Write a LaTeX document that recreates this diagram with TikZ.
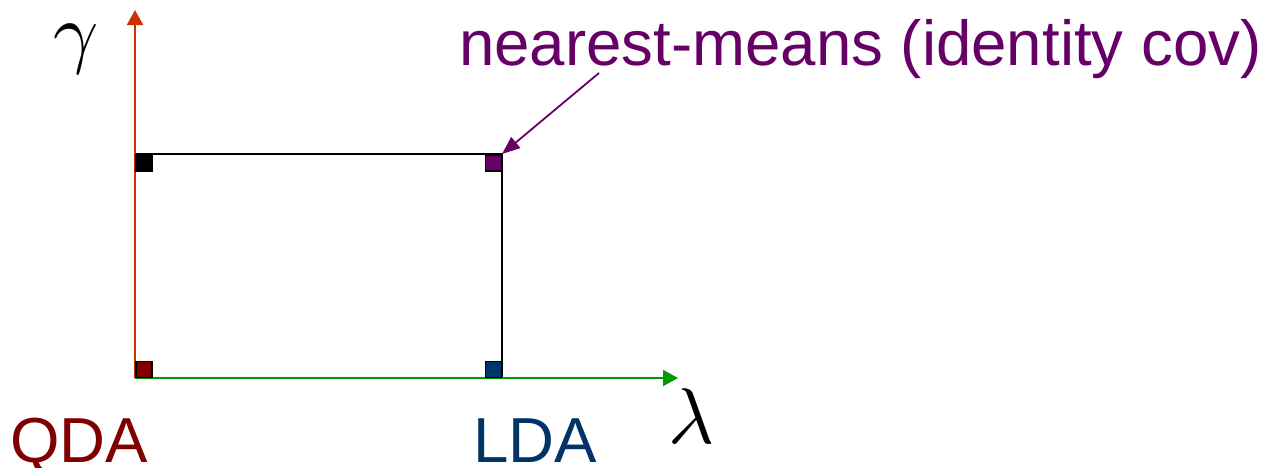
\documentclass[tikz,border=0pt]{standalone}
\usepackage{fontspec}
\setmainfont{Liberation Sans}
\usetikzlibrary{arrows.meta}
\definecolor{axisred}{RGB}{204,51,0}
\definecolor{axisgreen}{RGB}{0,153,0}
\definecolor{qdacol}{RGB}{128,0,0}
\definecolor{ldacol}{RGB}{0,51,102}
\definecolor{nmcol}{RGB}{102,0,102}
\tikzset{
  marker/.style={draw=black, line width=1.5pt, minimum size=16pt, inner sep=0pt, fill=#1},
  axisline/.style={line width=2pt, -{Triangle[length=15pt,width=16pt]}},
  label/.style={inner sep=0pt, anchor=base west, font=\fontsize{63.6}{70}\selectfont},
  greek/.style={inner sep=0pt, anchor=base west, scale=7.9},
}
\begin{document}
\begin{tikzpicture}[x=1pt, y=-1pt]
  \useasboundingbox (0,0) rectangle (1266,467);
  % corners of the parameter rectangle
  \coordinate (O) at (135,378);
  \coordinate (TL) at (135,154);
  \coordinate (TR) at (502,154);
  \coordinate (BR) at (502,378);
  \coordinate (ytip) at (135,10);
  \coordinate (xtip) at (678,378);
  % rectangle
  \draw[line width=2pt] (TL) -- (TR) -- (BR);
  % axes
  \draw[axisline, draw=axisred, fill=axisred] (O) -- (ytip);
  \draw[axisline, draw=axisgreen, fill=axisgreen] (O) -- (xtip);
  % corner markers
  \node[marker=qdacol, anchor=south west] (qdasq) at (O) {};
  \node[marker=black, anchor=north west] (tlsq) at (TL) {};
  \node[marker=nmcol, anchor=north east] (nmsq) at (TR) {};
  \node[marker=ldacol, anchor=south east] (ldasq) at (BR) {};
  % axis symbols
  \node[greek] (gam) at (52,58) {$\gamma$};
  \node[greek] (lam) at (667,443) {$\lambda$};
  % labels
  \node[label, text=qdacol] (qda) at (10,462) {QDA};
  \node[label, text=ldacol] (lda) at (473,462) {LDA};
  \node[label, text=nmcol] (nm) at (459,65) {nearest-means (identity cov)};
  \coordinate (nmstart) at (599,73);
  \draw[nmcol, line width=1.8pt, -{Triangle[length=18pt,width=14pt]}] (nmstart) -- (nmsq.north east);
\end{tikzpicture}
\end{document}
